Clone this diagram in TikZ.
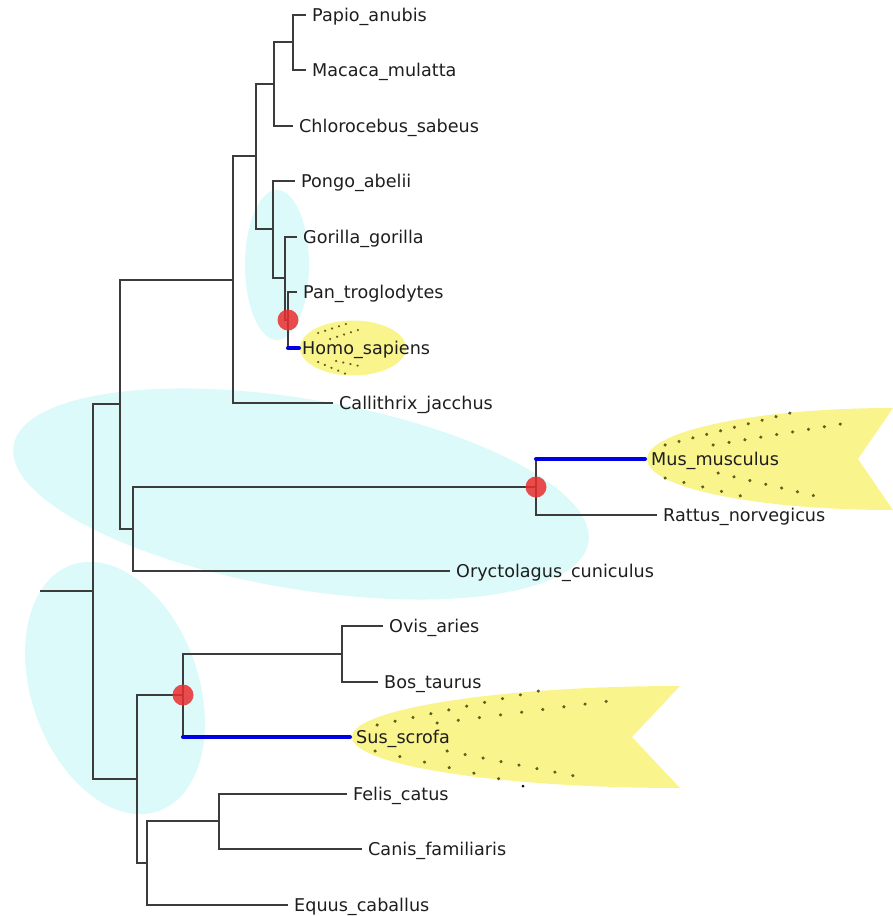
\documentclass[tikz,border=0pt]{standalone}
\usepackage{fontspec}
\setmainfont{DejaVu Sans}
\usetikzlibrary{shapes.geometric}

\definecolor{garis}{RGB}{60,60,60}
\definecolor{teks}{RGB}{30,30,30}
\definecolor{biru}{RGB}{0,0,230}
\definecolor{merah}{RGB}{235,45,45}
\definecolor{toska}{RGB}{220,250,250}
\definecolor{kuning}{RGB}{249,244,140}
\definecolor{zaitun}{RGB}{95,95,25}

\begin{document}
\begin{tikzpicture}[x=1pt, y=-1pt,
	% Gaya untuk cabang pohon
	cabang/.style={
		draw=garis,
		line width=1.3pt
	},
	sorot/.style={
		draw=biru,
		line width=4pt,
		line cap=round
	},
	% Gaya untuk nama spesies
	daun/.style={
		anchor=west,
		inner xsep=6pt,
		inner ysep=0pt,
		text height=13pt,
		text depth=0pt,
		text=teks,
		font=\fontsize{17.6}{20}\selectfont
	},
	% Gaya untuk penanda
	titik/.style={
		circle,
		fill=merah,
		fill opacity=0.85,
		minimum size=21pt,
		inner sep=0pt
	},
	awan/.style={
		ellipse,
		fill=toska,
		inner sep=0pt
	},
	bintik/.style={
		draw=zaitun,
		line width=3.2pt,
		line cap=round,
		dash pattern=on 0.3pt off #1
	},
	bintik/.default=18pt
	]
	
	\useasboundingbox (0,0) rectangle (893,916);
	
	% Latar: elips sorotan
	\node[awan, minimum width=64pt, minimum height=150pt] (awanKera) at (277,265) {};
	\node[awan, minimum width=583pt, minimum height=190pt, rotate=-9.6] (awanTikus) at (301,494) {};
	\node[awan, minimum width=167pt, minimum height=261pt, rotate=19.5] (awanBabi) at (115,688) {};
	
	% Bentuk kuning
	\node[ellipse, fill=kuning, minimum width=106pt, minimum height=55pt, inner sep=0pt] (awanHomo) at (353,348) {};
	\fill[kuning] (893,408) .. controls (757,408) and (647,431) .. (647,459)
		.. controls (647,488) and (757,510) .. (893,510) -- (858,459) -- cycle;
	\fill[kuning] (680,686) .. controls (499,686) and (352,709) .. (352,737)
		.. controls (352,765) and (499,788) .. (680,788) -- (632,737) -- cycle;
	
	\draw[bintik=7pt, line width=2.2pt] (318,333) -- (346,324);
	\draw[bintik=7pt, line width=2.2pt] (330,339) -- (358,330);
	\draw[bintik=7pt, line width=2.2pt] (318,362) -- (346,374);
	\draw[bintik=7pt, line width=2.2pt] (336,361) -- (364,367);
	\draw[bintik=14pt] (665,445) -- (802,410);
	\draw[bintik=15.8pt] (713,445) -- (853,422);
	\draw[bintik=19pt] (665,478) -- (758,500);
	\draw[bintik=16pt] (718,473) -- (828,499);
	\draw[bintik] (377,725) -- (553,688);
	\draw[bintik=21pt] (437,723) -- (625,699);
	\draw[bintik=25pt] (375,751) -- (500,779);
	\draw[bintik=18pt] (447,751) -- (590,779);
	\fill[black] (523,786) circle[radius=1.5pt];
	
	% Titik cabang
	\coordinate (n1) at (293,42);
	\coordinate (n2) at (274,84);
	\coordinate (n3) at (288,320);
	\coordinate (n4) at (285,278);
	\coordinate (n5) at (273,229);
	\coordinate (n6) at (256,156);
	\coordinate (n7) at (233,280);
	\coordinate (n8) at (536,487);
	\coordinate (n9) at (133,529);
	\coordinate (n10) at (120,404);
	\coordinate (n11) at (342,654);
	\coordinate (n12) at (183,695);
	\coordinate (n13) at (219,821);
	\coordinate (n14) at (147,863);
	\coordinate (n15) at (137,779);
	\coordinate (akar) at (93,591);
	\coordinate (pangkal) at (40,591);
	
	% Nama spesies
	\node[daun] (papio) at (306,15) {Papio\_anubis};
	\node[daun] (macaca) at (306,70) {Macaca\_mulatta};
	\node[daun] (chloro) at (293,126) {Chlorocebus\_sabeus};
	\node[daun] (pongo) at (295,181) {Pongo\_abelii};
	\node[daun] (gorilla) at (297,237) {Gorilla\_gorilla};
	\node[daun] (pan) at (297,292) {Pan\_troglodytes};
	\node[daun] (homo) at (296,348) {Homo\_sapiens};
	\node[daun] (callithrix) at (333,403) {Callithrix\_jacchus};
	\node[daun] (mus) at (645,459) {Mus\_musculus};
	\node[daun] (rattus) at (657,515) {Rattus\_norvegicus};
	\node[daun] (oryctolagus) at (450,571) {Oryctolagus\_cuniculus};
	\node[daun] (ovis) at (383,626) {Ovis\_aries};
	\node[daun] (bos) at (378,682) {Bos\_taurus};
	\node[daun] (sus) at (350,737) {Sus\_scrofa};
	\node[daun] (felis) at (347,794) {Felis\_catus};
	\node[daun] (canis) at (362,849) {Canis\_familiaris};
	\node[daun] (equus) at (288,905) {Equus\_caballus};
	
	% Menghubungkan cabang
	\draw[cabang] (n1) |- (papio.west) (n1) |- (macaca.west);
	\draw[cabang] (n2) |- (n1) (n2) |- (chloro.west);
	\draw[cabang] (n3) |- (pan.west) (n3) -- (n3 |- homo.west);
	\draw[sorot] (n3 |- homo.west) -- ([xshift=3pt]homo.west);
	\draw[cabang] (n4) |- (gorilla.west) (n4) |- (n3);
	\draw[cabang] (n5) |- (pongo.west) (n5) |- (n4);
	\draw[cabang] (n6) |- (n2) (n6) |- (n5);
	\draw[cabang] (n7) |- (n6) (n7) |- (callithrix.west);
	\draw[cabang] (n8) |- (rattus.west) (n8) -- (n8 |- mus.west);
	\draw[sorot] (n8 |- mus.west) -- (mus.west);
	\draw[cabang] (n9) |- (n8) (n9) |- (oryctolagus.west);
	\draw[cabang] (n10) |- (n7) (n10) |- (n9);
	\draw[cabang] (n11) |- (ovis.west) (n11) |- (bos.west);
	\draw[cabang] (n12) |- (n11) (n12) -- (n12 |- sus.west);
	\draw[sorot] (n12 |- sus.west) -- (sus.west);
	\draw[cabang] (n13) |- (felis.west) (n13) |- (canis.west);
	\draw[cabang] (n14) |- (n13) (n14) |- (equus.west);
	\draw[cabang] (n15) |- (n12) (n15) |- (n14);
	\draw[cabang] (akar) |- (n10) (akar) |- (n15);
	\draw[cabang] (pangkal) -- (akar);
	
	% Penanda duplikasi
	\node[titik] (tandaHomo) at (n3) {};
	\node[titik] (tandaTikus) at (n8) {};
	\node[titik] (tandaBabi) at (n12) {};
	
\end{tikzpicture}
\end{document}
